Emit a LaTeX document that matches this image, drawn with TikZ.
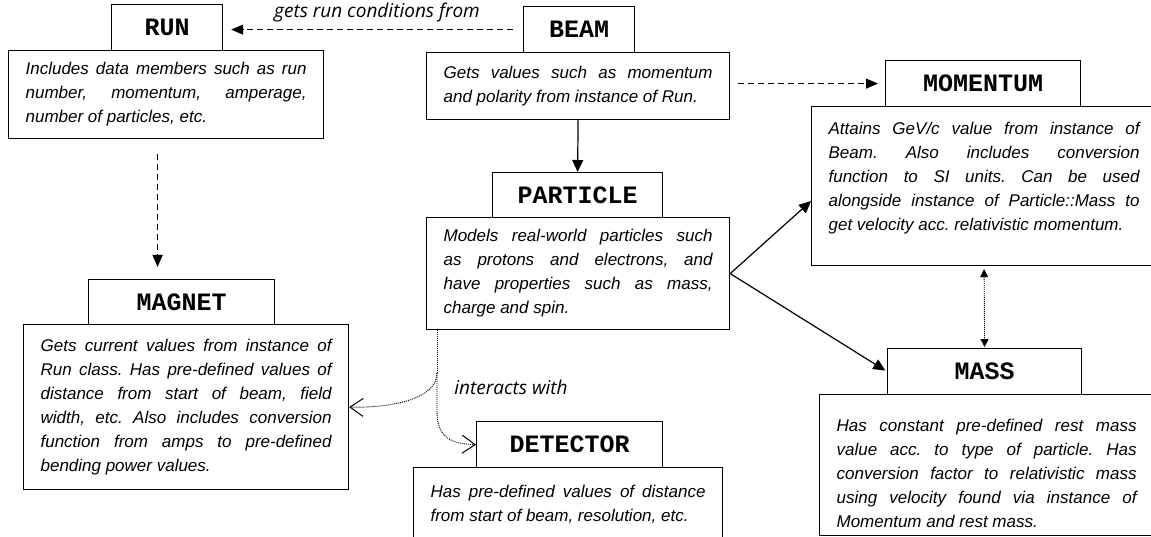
\documentclass[tikz,border=0pt]{standalone}
\usepackage{fontspec}
\setmainfont{Liberation Sans}
\newfontfamily\titlefont{Liberation Mono}
\newfontfamily\labelfont{Open Sans}
\usetikzlibrary{arrows.meta}
\tolerance = 10000
\hbadness = 10000
\frenchspacing
\tikzset{
	classname/.style = {draw, line width = 1.2pt, fill = white, anchor = north west, inner sep = 0pt, font = \titlefont\bfseries\fontsize{25}{25}\selectfont},
	classbody/.style = {draw, line width = 1.2pt, fill = white, anchor = north west, inner xsep = 17pt, inner ysep = 0pt, align = justify, font = \fontsize{17}{24}\selectfont\itshape\frenchspacing},
	linklabel/.style = {font = \labelfont\itshape\fontsize{19}{19}\selectfont},
	solidarrow/.style = {line width = 1.2pt, -{Triangle[length = 12pt, width = 11pt]}},
	dasharrow/.style = {line width = 1.2pt, dash pattern = on 6pt off 4pt, -{Triangle[length = 12pt, width = 10pt]}},
	dotline/.style = {line width = 0.9pt, dash pattern = on 1pt off 1pt},
	dotarrow/.style = {dotline, -{Straight Barb[length = 13pt, width = 18pt, line width = 1pt]}},
	dotboth/.style = {dotline, {Triangle[length = 8pt, width = 8pt]}-{Triangle[length = 8pt, width = 8pt]}}
}
\begin{document}
\begin{tikzpicture} [x = 1pt, y = -1pt]
	\fill [white] (0,0) rectangle (1151,537);
	\useasboundingbox (0,0) rectangle (1151,537);
	% class boxes
	\node [classbody, text width = 281pt, minimum height = 88pt] (runB) at (8,50) {Includes data members such as run\linebreak number, momentum, amperage,\linebreak number of particles, etc.};
	\node [classname, minimum width = 111pt, minimum height = 46pt] (runT) at (111,4) {RUN};
	\node [classbody, text width = 269pt, minimum height = 67pt] (beamB) at (426,52) {Gets values such as momentum\linebreak and polarity from instance of Run.};
	\node [classname, minimum width = 111pt, minimum height = 46pt] (beamT) at (523,6) {BEAM};
	\node [classbody, text width = 311pt, minimum height = 159pt] (momB) at (811,106) {Attains GeV/c value from instance of\linebreak Beam. Also includes conversion\linebreak function to SI units. Can be used\linebreak alongside instance of Particle::Mass to\linebreak get velocity acc. relativistic momentum.\rule[-19pt]{0pt}{19pt}};
	\node [classname, minimum width = 195pt, minimum height = 46pt] (momT) at (885,60) {MOMENTUM};
	\node [classbody, text width = 269pt, minimum height = 112pt] (partB) at (426,217) {Models real-world particles such\linebreak as protons and electrons, and\linebreak have properties such as mass,\linebreak charge and spin.};
	\node [classname, minimum width = 170pt, minimum height = 45pt] (partT) at (492,172) {PARTICLE};
	\node [classbody, text width = 291pt, minimum height = 165pt] (magB) at (23,324) {Gets current values from instance of\linebreak Run class. Has pre-defined values of\linebreak distance from start of beam, field\linebreak width, etc. Also includes conversion\linebreak function from amps to pre-defined\linebreak bending power values.};
	\node [classname, minimum width = 186pt, minimum height = 45pt] (magT) at (88,279) {MAGNET};
	\node [classbody, text width = 275pt, minimum height = 73pt] (detB) at (413,467) {Has pre-defined values of distance\linebreak from start of beam, resolution, etc.};
	\node [classname, minimum width = 186pt, minimum height = 46pt] (detT) at (476,421) {DETECTOR};
	\node [classbody, text width = 300pt, minimum height = 141pt] (massB) at (819,394) {\rule{0pt}{29pt}Has constant pre-defined rest mass\linebreak value acc. to type of particle. Has\linebreak conversion factor to relativistic mass\linebreak using velocity found via instance of\linebreak Momentum and rest mass.};
	\node [classname, minimum width = 194pt, minimum height = 46pt] (massT) at (887,348) {MASS};
	% links
	\draw [dasharrow, shorten <= 10pt, shorten >= 8pt] (beamT.west) -- (beamT.west -| runT.east);
	\node [linklabel] (lblRun) at (377,13) {gets run conditions from};
	\draw [dasharrow, shorten <= 8pt, shorten >= 7pt] (beamB.east |- momT.west) -- (momT.west);
	\draw [solidarrow] (beamB.south) -- (partT.north);
	\draw [dasharrow, shorten <= 15pt, shorten >= 12pt] ([xshift = -8.5pt]runB.south) -- ([xshift = -24pt]magT.north);
	\draw [solidarrow] (partB.east) -- ([yshift = -15pt]momB.west);
	\draw [solidarrow, shorten >= 2pt] (partB.east) -- (massT.west);
	\draw [dotboth, shorten <= 3pt, shorten >= 1pt] (momB.south) -- (massT.north);
	\coordinate (fork) at (437,373);
	\draw [dotline] ([xshift = 11pt]partB.south west) -- (fork);
	\draw [dotarrow] (fork) .. controls (437,398) and (395,408) .. (magB.east);
	\draw [dotarrow] (fork) -- (437,412) .. controls (437,438) and (452,444) .. (detT.west);
	\node [linklabel] (lblInt) at (511,387) {interacts with};
\end{tikzpicture}
\end{document}
